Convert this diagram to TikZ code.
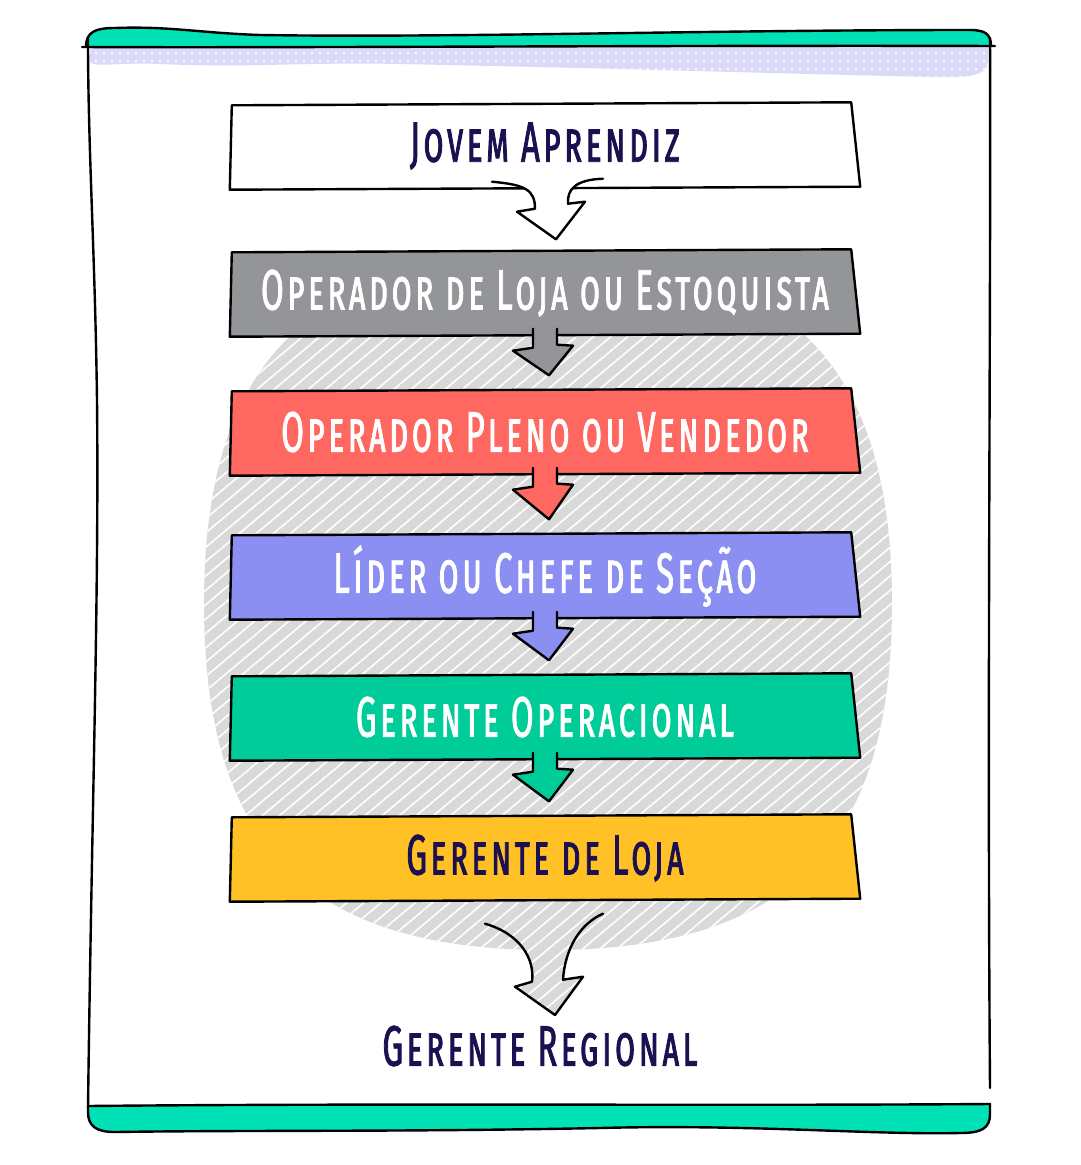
\documentclass[tikz,border=0pt]{standalone}
\usepackage{fontspec}
\usetikzlibrary{calc,patterns.meta,backgrounds}
\newfontfamily\handfont{Fira Sans}[Letters=SmallCaps,FakeStretch=0.575,LetterSpace=6,FakeBold=1.4]
\definecolor{barteal}{RGB}{0,226,182}
\definecolor{bandlilac}{RGB}{218,218,248}
\definecolor{circgray}{RGB}{217,217,217}
\definecolor{stagegray}{RGB}{147,149,152}
\definecolor{stagered}{RGB}{255,103,97}
\definecolor{stagelilac}{RGB}{140,143,242}
\definecolor{stagegreen}{RGB}{0,204,153}
\definecolor{stageyellow}{RGB}{255,193,37}
\definecolor{inkblue}{RGB}{28,16,80}
\tikzset{
  edge line/.style={line width=2.4pt,line join=round,line cap=round},
  stage/.style={minimum width=630pt,minimum height=87pt,inner sep=0pt,font={\handfont\fontsize{57}{60}\selectfont}},
  hatched/.style={preaction={fill=circgray},pattern={Lines[angle=40,distance=11pt,line width=1.6pt]},pattern color=white},
  dotband/.style={preaction={fill=bandlilac},pattern={Dots[distance=8pt,radius=1.3pt]},pattern color=white}
}
% skewed box behind a stage node
\newcommand{\stagebox}[2]{\filldraw[edge line,fill=#2] ($(#1.north west)+(2,3)$) -- ($(#1.north east)+(-9,0)$) -- ($(#1.south east)+(0,-3)$) -- (#1.south west) -- cycle;}
% block arrow from one stage to the next
\newcommand{\stagearrow}[3]{\filldraw[edge line,fill=#3] ($(#1.south)+(-12,-8)$) -- ($(#1.south)+(-12,11)$) -- ($(#1.south)+(-32,14)$) -- ($(#2.north)+(4,-13)$) -- ($(#1.south)+(28,9)$) -- ($(#1.south)+(12,8)$) -- ($(#1.south)+(12,-8)$);}
\begin{document}
\begin{tikzpicture}[x=1pt,y=-1pt]
\useasboundingbox (0,0) rectangle (1080,1165);

\node[stage,text=inkblue] (b1) at (545,146) {Jovem Aprendiz}; %stage 1
\node[stage,text=white] (b2) at (545,293) {Operador de Loja ou Estoquista}; %stage 2
\node[stage,text=white] (b3) at (545,432) {Operador Pleno ou Vendedor}; %stage 3
\node[stage,text=white] (b4) at (545,576) {Líder ou Chefe de Seção}; %stage 4
\node[stage,text=white] (b5) at (545,717) {Gerente Operacional}; %stage 5
\node[stage,text=inkblue] (b6) at (545,858) {Gerente de Loja}; %stage 6
\node[font={\handfont\fontsize{57}{60}\selectfont},text=inkblue] (regional) at (540,1046) {Gerente Regional}; %last step

\begin{scope}[on background layer]
\fill[white] (0,0) rectangle (1080,1165);
\fill[hatched] (204,604) .. controls (204,363) and (307,258) .. (548,258) .. controls (789,258) and (892,363) .. (892,604) .. controls (892,845) and (789,950) .. (548,950) .. controls (307,950) and (204,845) .. (204,604) -- cycle; %hatched disc
\stagebox{b1}{white}
\stagebox{b2}{stagegray}
\stagebox{b3}{stagered}
\stagebox{b4}{stagelilac}
\stagebox{b5}{stagegreen}
\stagebox{b6}{stageyellow}
\end{scope}

% arrows
\filldraw[edge line,fill=white] ($(b1.south)+(-53,-8)$) .. controls ($(b1.south)+(-20,-5)$) and ($(b1.south)+(-10,0)$) .. ($(b1.south)+(-10,19)$) -- ($(b1.south)+(-28,22)$) -- ($(b2.north)+(11,-10)$) -- ($(b1.south)+(40,12)$) -- ($(b1.south)+(23,14)$) .. controls ($(b1.south)+(22,0)$) and ($(b1.south)+(30,-10)$) .. ($(b1.south)+(58,-11)$);
\stagearrow{b2}{b3}{stagegray}
\stagearrow{b3}{b4}{stagered}
\stagearrow{b4}{b5}{stagelilac}
\stagearrow{b5}{b6}{stagegreen}
\filldraw[edge line,hatched] ($(b6.south)+(-60,22)$) .. controls ($(b6.south)+(-25,32)$) and ($(b6.south)+(-10,57)$) .. ($(b6.south)+(-13,80)$) -- ($(b6.south)+(-30,85)$) -- ($(regional.center)+(15,-31)$) -- ($(b6.south)+(38,75)$) -- ($(b6.south)+(18,78)$) .. controls ($(b6.south)+(20,47)$) and ($(b6.south)+(35,22)$) .. ($(b6.south)+(58,12)$);

% frame
\fill[dotband] (90,47) -- (988,47) -- (988,62) .. controls (986,76) and (970,78) .. (930,77) .. controls (800,74) and (600,68) .. (400,64) .. controls (300,62) and (250,68) .. (160,64) .. controls (120,62) and (95,68) .. (90,62) -- cycle; %dotted band
\filldraw[edge line,fill=barteal] (86,47) .. controls (86,32) and (95,28) .. (115,28) .. controls (170,26) and (200,33) .. (260,35) .. controls (450,38) and (700,30) .. (970,30) .. controls (985,30) and (991,34) .. (991,46); %top bar
\draw[edge line] (82,47) .. controls (300,48) and (700,45) .. (995,46); %top rule
\draw[edge line] (88,1108) .. controls (92,800) and (99,600) .. (97,400) .. controls (95,250) and (88,150) .. (88,38); %left side
\draw[edge line] (990,38) .. controls (991,300) and (987,700) .. (990,1088); %right side
\filldraw[edge line,fill=barteal] (88,1106) .. controls (400,1103) and (700,1106) .. (990,1104) -- (990,1114) .. controls (990,1128) and (982,1133) .. (960,1133) .. controls (870,1135) and (750,1124) .. (600,1128) .. controls (400,1132) and (250,1130) .. (115,1132) .. controls (96,1132) and (88,1126) .. (88,1112) -- cycle; %bottom bar
\end{tikzpicture}
\end{document}
